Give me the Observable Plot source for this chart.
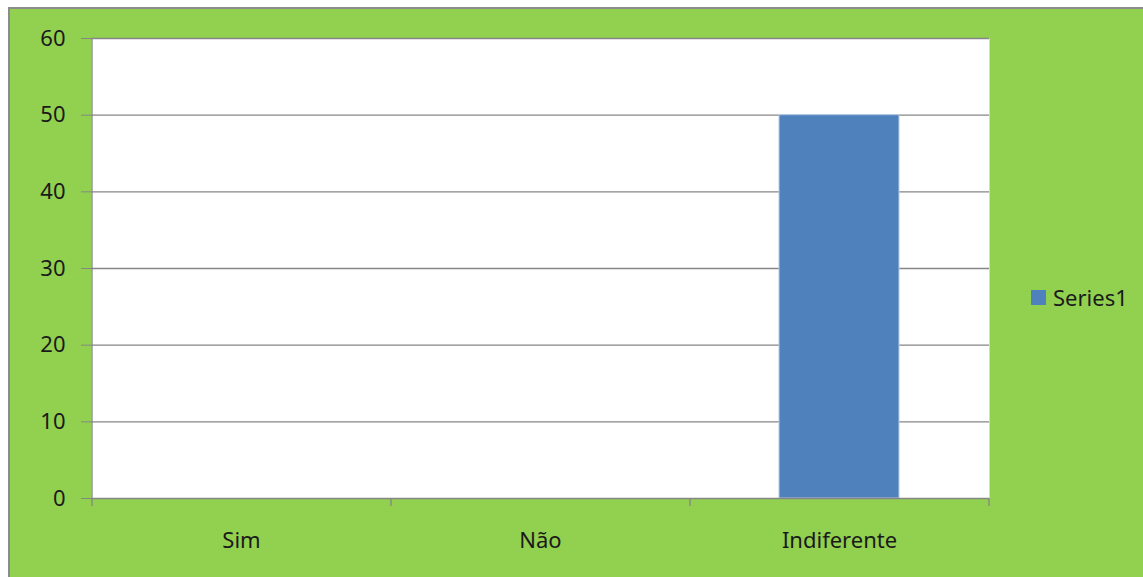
<!DOCTYPE html>
<html><head><meta charset="utf-8">
<script src="https://cdn.jsdelivr.net/npm/d3@7"></script>
<script src="https://cdn.jsdelivr.net/npm/@observablehq/plot@0.6"></script>
<style>
html,body{margin:0;padding:0;background:#fff;}
#wrap{position:relative;width:1143px;height:577px;overflow:hidden;background:#fff;}
#panel{position:absolute;left:8px;top:7px;width:1200px;height:620px;background:#92D050;border-left:2px solid #8c8c8c;border-top:2px solid #8c8c8c;}
#chart{position:absolute;left:0;top:0;}
#legend{position:absolute;left:1031px;top:283px;display:flex;align-items:center;font-family:"Noto Sans";font-size:22px;color:#1a1a1a;line-height:28px;}
#legend .sw{width:15px;height:15px;background:#4F81BD;margin-right:7px;}
</style>
</head><body>
<div id="wrap"><div id="panel"></div><div id="chart"></div><div id="legend"></div></div>
<script>
const categories = ["Sim", "Não", "Indiferente"];
const values = [0, 0, 50];
const yTicks = [0, 10, 20, 30, 40, 50, 60];
const seriesName = "Series1";

const data = categories.map((c, i) => ({category: c, value: values[i]}));
const gray = "#868686";

function axisLines(index, scales) {
  const x = scales.x, y = scales.y;
  const step = x.step(), bw = x.bandwidth();
  const pad = (step - bw) / 2;
  const bounds = categories.map(c => x(c) - pad).concat([x(categories[categories.length - 1]) + bw + pad]);
  const g = d3.create("svg:g").attr("stroke", gray).attr("stroke-width", 1.3);
  g.append("line").attr("x1", bounds[0] + 0.5).attr("x2", bounds[0] + 0.5)
    .attr("y1", y(yTicks[yTicks.length - 1])).attr("y2", y(0) + 0.5);
  g.selectAll("line.t").data(bounds).join("line").attr("class", "t")
    .attr("x1", d => d + 0.5).attr("x2", d => d + 0.5)
    .attr("y1", y(0)).attr("y2", y(0) + 8);
  return g.node();
}

const chart = Plot.plot({
  width: 1143, height: 577,
  marginLeft: 91, marginRight: 154, marginTop: 38, marginBottom: 79,
  style: {background: "transparent", fontFamily: "Noto Sans", fontSize: "22px", color: "#1a1a1a", overflow: "visible"},
  x: {domain: categories, paddingInner: 0.6, paddingOuter: 0.3, label: null},
  y: {domain: [0, 60], label: null},
  marks: [
    Plot.frame({fill: "white", stroke: null}),
    Plot.gridY(yTicks.filter(d => d > 0), {stroke: gray, strokeOpacity: 1, strokeWidth: 1.3}),
    Plot.barY(data, {x: "category", y: "value", fill: "#4F81BD", stroke: "#b8cce4", strokeWidth: 1}),
    Plot.ruleY([0], {stroke: gray, strokeWidth: 1.3}),
    Plot.axisY(yTicks, {tickSize: 10, tickPadding: 16, stroke: gray, fill: "#1a1a1a", label: null}),
    Plot.axisX({tickSize: 0, tickPadding: 34, fill: "#1a1a1a", label: null}),
    axisLines
  ]
});
document.getElementById("chart").appendChild(chart);

const legend = document.getElementById("legend");
legend.innerHTML = `<div class="sw"></div><span>${seriesName}</span>`;
</script>
</body></html>
